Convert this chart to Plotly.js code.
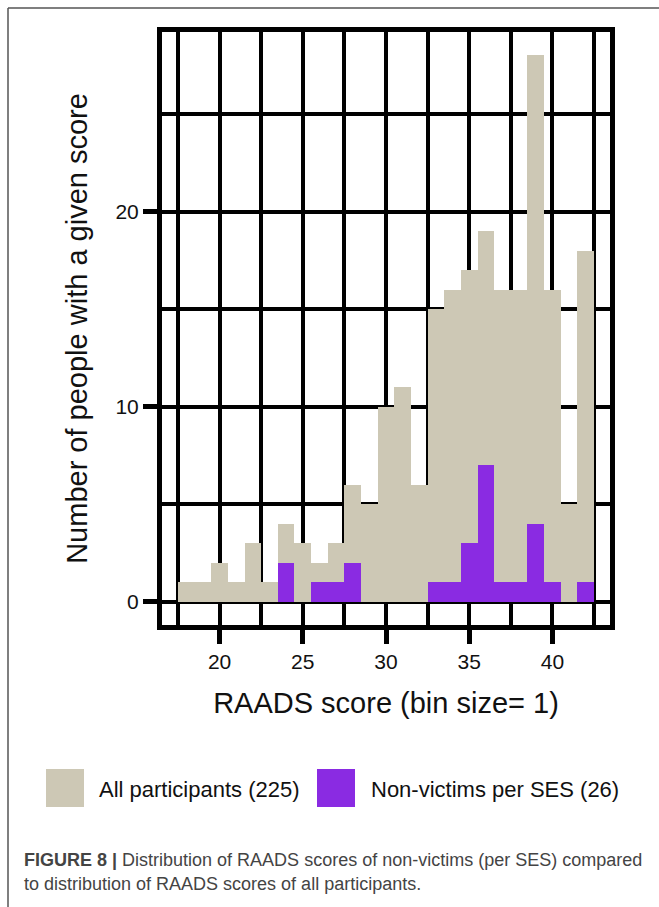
<!DOCTYPE html>
<html>
<head>
<meta charset="utf-8">
<script src="https://cdn.plot.ly/plotly-3.0.1.min.js"></script>
<style>
html,body{margin:0;padding:0;background:#fff;}
#chart{width:659px;height:907px;}
</style>
</head>
<body>
<div id="chart"></div>
<script>
// ---- data ----
const scores = [18,19,20,21,22,23,24,25,26,27,28,29,30,31,32,33,34,35,36,37,38,39,40,41,42];
const allParticipants = [1,1,2,1,3,1,4,3,2,3,6,5,10,11,6,15,16,17,19,16,16,28,16,5,18];
const nonVictims = [0,0,0,0,0,0,2,0,1,1,2,0,0,0,0,1,1,3,7,1,1,4,1,0,1];
const seriesNames = ["All participants (225)", "Non-victims per SES (26)"];
const xTitle = "RAADS score (bin size= 1)";
const yTitle = "Number of people with a given score";
const captionBold = "FIGURE 8 |";
const captionLine1 = " Distribution of RAADS scores of non-victims (per SES) compared";
const captionLine2 = "to distribution of RAADS scores of all participants.";

const beige = "#CDC8B5";
const purple = "#8A2BE2";

// layout geometry (pixels)
const W = 659, H = 907;
const M = {l:162, r:49, t:32, b:282};
const pw = W - M.l - M.r, ph = H - M.t - M.b;
const px = x => (x - M.l) / pw;
const py = y => (H - M.b - y) / ph;

const font = "Liberation Sans, Arial, sans-serif";

const traces = [
  {type:"bar", x:scores, y:allParticipants, name:seriesNames[0], width:1,
   marker:{color:beige, line:{width:0}}, showlegend:false, hoverinfo:"x+y"},
  {type:"bar", x:scores, y:nonVictims, name:seriesNames[1], width:1,
   marker:{color:purple, line:{width:0}}, showlegend:false, hoverinfo:"x+y"}
];

const layout = {
  width:W, height:H,
  margin:M,
  paper_bgcolor:"#fff", plot_bgcolor:"#fff",
  barmode:"overlay", bargap:0,
  font:{family:font, color:"#000"},
  xaxis:{
    range:[16.54, 43.46], tick0:20, dtick:5, tickmode:"linear",
    showline:true, mirror:true, linecolor:"#000", linewidth:5,
    ticks:"outside", ticklen:14, tickwidth:5, tickcolor:"#000",
    showgrid:true, gridcolor:"#000", gridwidth:4, zeroline:false,
    minor:{tick0:17.5, dtick:2.5, showgrid:true, gridcolor:"#000", gridwidth:4, ticks:""},
    tickfont:{size:21, family:font, color:"#111"},
    title:{text:xTitle, font:{size:29, family:font, color:"#111"}, standoff:22},
    fixedrange:true
  },
  yaxis:{
    range:[-1.18, 29.2], tick0:0, dtick:10, tickmode:"linear",
    showline:true, mirror:true, linecolor:"#000", linewidth:5,
    ticks:"outside", ticklen:14, tickwidth:5, tickcolor:"#000",
    showgrid:true, gridcolor:"#000", gridwidth:4, zeroline:false,
    minor:{tick0:0, dtick:5, showgrid:true, gridcolor:"#000", gridwidth:4, ticks:""},
    tickfont:{size:21, family:font, color:"#111"},
    title:{text:yTitle, font:{size:29, family:font, color:"#111"}, standoff:21},
    fixedrange:true
  },
  shapes:[
    // figure frame lines
    {type:"line", xref:"paper", yref:"paper", x0:px(8), x1:px(659), y0:py(8), y1:py(8), line:{color:"#555", width:1.5}},
    {type:"line", xref:"paper", yref:"paper", x0:px(8), x1:px(8), y0:py(8), y1:py(907), line:{color:"#555", width:1.5}},
    // legend swatches
    {type:"rect", xref:"paper", yref:"paper", x0:px(46), x1:px(84), y0:py(769), y1:py(807), fillcolor:beige, line:{width:0}},
    {type:"rect", xref:"paper", yref:"paper", x0:px(317), x1:px(355), y0:py(769), y1:py(807), fillcolor:purple, line:{width:0}}
  ],
  annotations:[
    {xref:"paper", yref:"paper", x:px(97), y:py(789), xanchor:"left", yanchor:"middle", showarrow:false,
     text:seriesNames[0], font:{size:22, family:font, color:"#111"}},
    {xref:"paper", yref:"paper", x:px(369), y:py(789), xanchor:"left", yanchor:"middle", showarrow:false,
     text:seriesNames[1], font:{size:22, family:font, color:"#111"}},
    {xref:"paper", yref:"paper", x:px(22), y:py(860), xanchor:"left", yanchor:"middle", showarrow:false, align:"left",
     text:"<b>"+captionBold+"</b>"+captionLine1, font:{size:18, family:font, color:"#444"}},
    {xref:"paper", yref:"paper", x:px(22), y:py(884), xanchor:"left", yanchor:"middle", showarrow:false, align:"left",
     text:captionLine2, font:{size:18, family:font, color:"#444"}}
  ]
};

Plotly.newPlot("chart", traces, layout, {staticPlot:true, displayModeBar:false});
</script>
</body>
</html>
